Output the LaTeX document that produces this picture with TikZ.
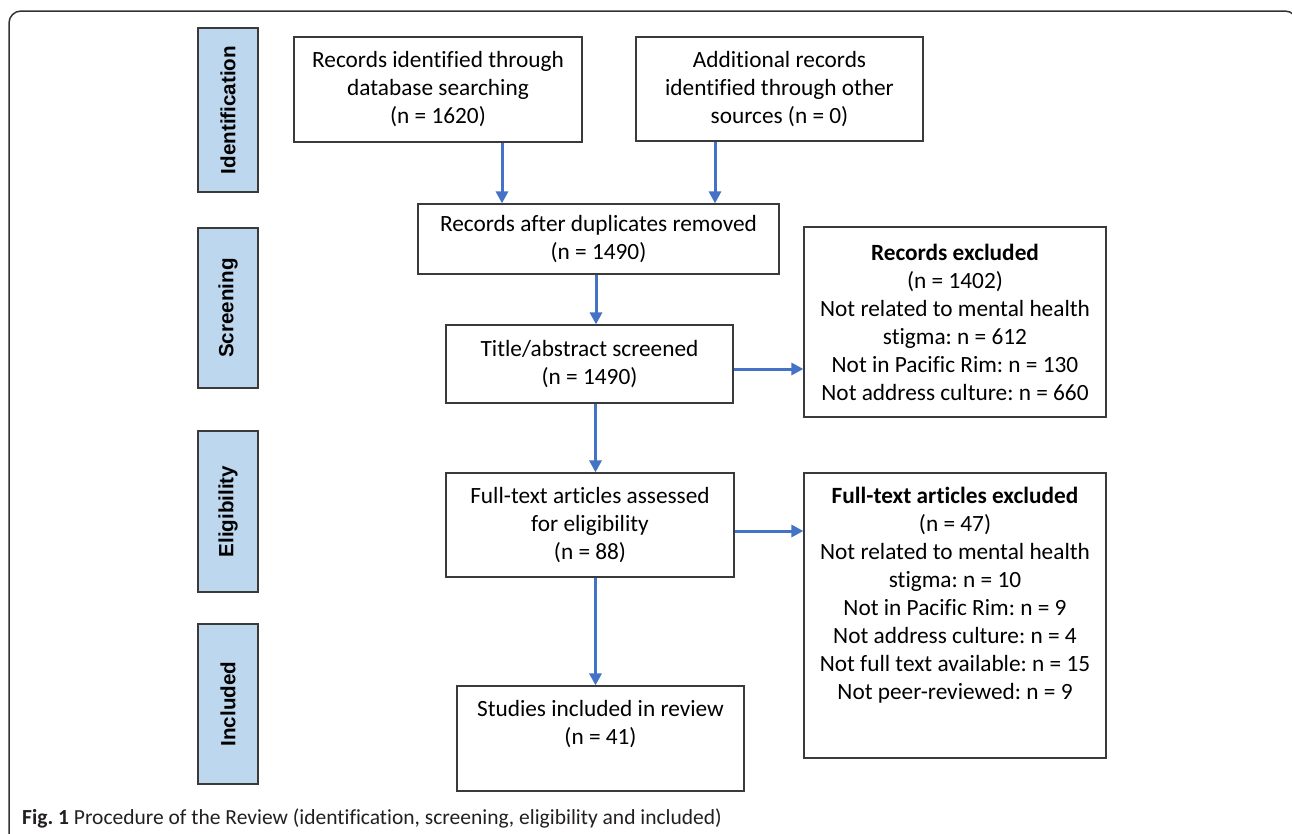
\documentclass[tikz,border=0pt]{standalone}
\usepackage{fontspec}
\setmainfont{Carlito}[Ligatures={NoCommon,NoRare,NoDiscretionary}]
\newfontfamily\sidefont{Liberation Sans}
\usetikzlibrary{arrows.meta}
\definecolor{boxline}{HTML}{3A3A3A}
\definecolor{sideblue}{HTML}{BDD7EE}
\definecolor{arrowblue}{HTML}{4472C4}
\definecolor{framegray}{HTML}{333333}
\definecolor{captext}{HTML}{231F20}
\frenchspacing
\begin{document}
\begin{tikzpicture}[x=1pt,y=-1pt,
  box/.style={draw=boxline, line width=1.2pt, fill=white, inner sep=0pt, align=center,
    font=\fontsize{23.3}{28}\selectfont},
  txt/.style={inner sep=0pt, align=center, font=\fontsize{23.3}{28}\selectfont},
  side/.style={draw=boxline, fill=sideblue, line width=1.2pt, inner sep=0pt, rotate=90,
    minimum height=60pt, font=\sidefont\bfseries\fontsize{20.6}{24}\selectfont},
  arr/.style={draw=arrowblue, line width=3pt, -{Triangle[length=12pt,width=12pt]}}
]
\useasboundingbox (0,0) rectangle (1292,833);
\begin{scope}
\clip (0,0) rectangle (1292,833);
\draw[framegray, line width=1.5pt, rounded corners=12pt] (9,850) -- (9,11) -- (1297,11) -- (1297,850);
\end{scope}

% side labels
\node[side, minimum width=164pt] (s1) at (228,110) {Identification};
\node[side, minimum width=160pt] (s2) at (228,308) {Screening};
\node[side, minimum width=161pt] (s3) at (228,511.5) {Eligibility};
\node[side, minimum width=160pt] (s4) at (228,704) {Included};

% boxes
\node[box, minimum width=288pt, minimum height=105pt] (b1) at (438,89.5)
  {Records identified through\\database searching\\(n = 1620)};
\node[box, minimum width=287pt, minimum height=104pt] (b2) at (779.5,89)
  {Additional records\\identified through other\\sources (n = 0)};
\node[box, minimum width=361pt, minimum height=70pt] (b3) at (598.5,239)
  {Records after duplicates removed\\(n = 1490)};
\node[box, minimum width=287pt, minimum height=78pt] (b4) at (589.5,364)
  {Title/abstract screened\\(n = 1490)};
\node[box, minimum width=288pt, minimum height=104pt] (b5) at (590,525)
  {Full-text articles assessed\\for eligibility\\(n = 88)};
\node[box, minimum width=287pt, minimum height=105pt] (b6) at (600.5,738.5) {};
\node[txt] (t6) at (600.5,724) {Studies included in review\\(n = 41)};
\node[box, minimum width=302pt, minimum height=190pt] (b7) at (955,322)
  {\textbf{Records excluded}\\(n = 1402)\\Not related to mental health\\stigma: n = 612\\Not in Pacific Rim: n = 130\\Not address culture: n = 660};
\node[box, minimum width=302pt, minimum height=285pt] (b8) at (955,615.5) {};
\node[txt] (t8) at (955,595) {\textbf{Full-text articles excluded}\\(n = 47)\\Not related to mental health\\stigma: n = 10\\Not in Pacific Rim: n = 9\\Not address culture: n = 4\\Not full text available: n = 15\\Not peer-reviewed: n = 9};

% connectors
\draw[arr] ([xshift=64pt]b1.south) -- ([xshift=64pt]b1.south |- b3.north);
\draw[arr] ([xshift=-64.5pt]b2.south) -- ([xshift=-64.5pt]b2.south |- b3.north);
\draw[arr] ([xshift=-2.5pt]b3.south) -- ([xshift=-2.5pt]b3.south |- b4.north);
\draw[arr] ([xshift=6pt]b4.south) -- ([xshift=6pt]b4.south |- b5.north);
\draw[arr] ([xshift=5.5pt]b5.south) -- ([xshift=5.5pt]b5.south |- b6.north);
\draw[arr] ([yshift=-5pt]b4.east) -- ([yshift=-5pt]b4.east -| b7.west);
\draw[arr] ([yshift=-6pt]b5.east) -- ([yshift=-6pt]b5.east -| b8.west);

% caption
\node[anchor=west, inner sep=0pt, text=captext, font=\fontsize{21.5}{24}\selectfont] (cap) at (22,818)
  {\textbf{Fig. 1} Procedure of the Review (identification, screening, eligibility and included)};
\end{tikzpicture}
\end{document}
